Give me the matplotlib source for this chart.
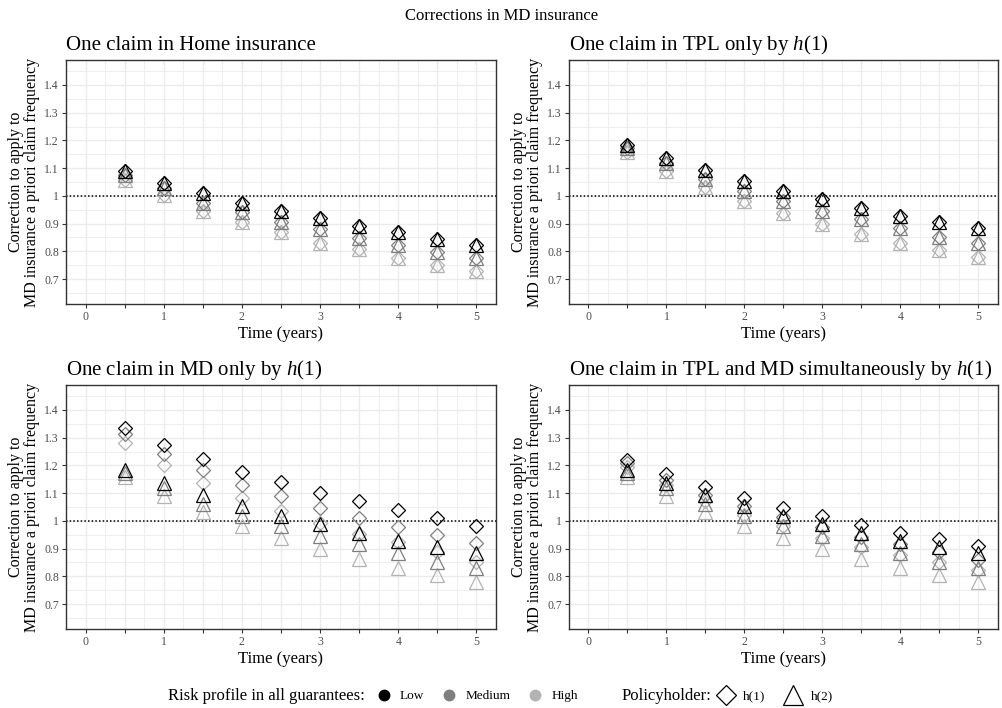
import matplotlib
matplotlib.use("Agg")
import matplotlib.pyplot as plt
from matplotlib.lines import Line2D
from matplotlib.ticker import MultipleLocator

plt.rcParams["font.family"] = ["Liberation Serif", "DejaVu Serif"]
plt.rcParams["mathtext.fontset"] = "custom"
plt.rcParams["mathtext.rm"] = "Liberation Serif"
plt.rcParams["mathtext.it"] = "Liberation Serif:italic"

# ---- data --------------------------------------------------------------------
TIME = [0.5, 1.0, 1.5, 2.0, 2.5, 3.0, 3.5, 4.0, 4.5, 5.0]

home_low = [1.088, 1.046, 1.010, 0.976, 0.946, 0.920, 0.893, 0.868, 0.845, 0.822]
home_med = [1.076, 1.028, 0.974, 0.940, 0.907, 0.880, 0.849, 0.823, 0.798, 0.775]
home_high = [1.058, 1.004, 0.946, 0.904, 0.868, 0.831, 0.808, 0.776, 0.752, 0.728]

tpl_low = [1.184, 1.136, 1.094, 1.054, 1.018, 0.988, 0.958, 0.928, 0.907, 0.883]
tpl_med = [1.172, 1.118, 1.060, 1.016, 0.980, 0.946, 0.916, 0.883, 0.853, 0.829]
tpl_high = [1.157, 1.088, 1.031, 0.980, 0.937, 0.898, 0.863, 0.831, 0.805, 0.781]

md_low = [1.335, 1.274, 1.223, 1.178, 1.140, 1.102, 1.070, 1.040, 1.010, 0.982]
md_med = [1.314, 1.241, 1.182, 1.130, 1.088, 1.046, 1.010, 0.977, 0.950, 0.919]
md_high = [1.280, 1.202, 1.136, 1.082, 1.034, 0.992, 0.953, 0.922, 0.889, 0.853]

both_low = [1.218, 1.168, 1.122, 1.082, 1.046, 1.016, 0.986, 0.958, 0.934, 0.910]
both_med = [1.208, 1.148, 1.094, 1.052, 1.013, 0.977, 0.943, 0.916, 0.886, 0.859]
both_high = [1.194, 1.130, 1.070, 1.022, 0.980, 0.937, 0.907, 0.877, 0.850, 0.823]

RISK = ["Low", "Medium", "High"]
COLORS = {"Low": "#000000", "Medium": "#7f7f7f", "High": "#b3b3b3"}

# (title, h(1) series, h(2) series)
PANELS = [
    ("One claim in Home insurance",
     (home_low, home_med, home_high), (home_low, home_med, home_high)),
    ("One claim in TPL only by $h$(1)",
     (tpl_low, tpl_med, tpl_high), (tpl_low, tpl_med, tpl_high)),
    ("One claim in MD only by $h$(1)",
     (md_low, md_med, md_high), (tpl_low, tpl_med, tpl_high)),
    ("One claim in TPL and MD simultaneously by $h$(1)",
     (both_low, both_med, both_high), (tpl_low, tpl_med, tpl_high)),
]

W, H = 1003, 708
fig = plt.figure(figsize=(W / 100, H / 100), dpi=100)

# axes boxes in pixels: left, top, right, bottom
BOXES = [(66, 60, 496, 304), (569, 60, 998, 304),
         (66, 385, 496, 629), (569, 385, 998, 629)]

for (title, h1, h2), (l, t, r, b) in zip(PANELS, BOXES):
    ax = fig.add_axes([l / W, 1 - b / H, (r - l) / W, (b - t) / H])
    ax.set_xlim(-0.25, 5.25)
    ax.set_ylim(0.61, 1.49)
    ax.xaxis.set_minor_locator(MultipleLocator(0.25))
    ax.yaxis.set_minor_locator(MultipleLocator(0.05))
    ax.set_xticks([0, 0.5, 1, 1.5, 2, 2.5, 3, 3.5, 4, 4.5, 5],
                  ["0", "", "1", "", "2", "", "3", "", "4", "", "5"])
    yt = [0.7, 0.8, 0.9, 1.0, 1.1, 1.2, 1.3, 1.4]
    ax.set_yticks(yt, ["0.7", "0.8", "0.9", "1", "1.1", "1.2", "1.3", "1.4"])
    ax.grid(which="major", color="#ebebeb", lw=1.0)
    ax.grid(which="minor", color="#ebebeb", lw=0.6)
    ax.set_axisbelow(True)
    ax.tick_params(which="major", length=3, width=0.8, color="#333333",
                   labelsize=8.5, labelcolor="#4d4d4d", pad=2)
    ax.tick_params(which="minor", length=0)
    for sp in ax.spines.values():
        sp.set_color("#333333")
        sp.set_linewidth(1.0)
    ax.axhline(1.0, color="black", lw=1.1, ls=(0, (1, 1.4)), zorder=1)
    for i in (2, 1, 0):
        c = COLORS[RISK[i]]
        ax.plot(TIME, h1[i], ls="", marker="D", ms=6.8, mfc="none",
                mec=c, mew=0.9, zorder=3)
        ax.plot(TIME, h2[i], ls="", marker="^", ms=9.5, mfc="none",
                mec=c, mew=0.9, zorder=3)
    ax.set_title(title, loc="left", fontsize=15, pad=7)
    ax.set_xlabel("Time (years)", fontsize=12, labelpad=2)
    ax.set_ylabel("Correction to apply to\nMD insurance a priori claim frequency",
                  fontsize=11.5, labelpad=3, linespacing=1.0)

fig.suptitle("Corrections in MD insurance", fontsize=12, y=1 - 16 / H, va="center")

# ---- bottom legend -----------------------------------------------------------
LEG_Y = 1 - 696 / H
fig.text(168 / W, LEG_Y, "Risk profile in all guarantees:",
         fontsize=12, va="center", ha="left")
risk_handles = [Line2D([], [], ls="", marker="o", ms=7.5, color=COLORS[r],
                       mec=COLORS[r]) for r in RISK]
fig.legend(risk_handles, RISK, loc="center left", ncol=3, frameon=False,
           bbox_to_anchor=(377 / W, LEG_Y), fontsize=9.5,
           handlelength=1.0, handletextpad=0.75, columnspacing=1.35,
           borderpad=0, borderaxespad=0)
fig.text(622 / W, LEG_Y, "Policyholder:", fontsize=12, va="center",
         ha="left")
ph_handles = [Line2D([], [], ls="", marker="D", ms=10, mfc="none", mec="black",
                     mew=0.9),
              Line2D([], [], ls="", marker="^", ms=14, mfc="none", mec="black",
                     mew=0.9)]
fig.legend(ph_handles, ["h(1)", "h(2)"], loc="center left", ncol=2,
           frameon=False, bbox_to_anchor=(717 / W, LEG_Y), fontsize=9.5,
           handlelength=1.4, handletextpad=0.6, columnspacing=1.4,
           borderpad=0, borderaxespad=0)

fig.savefig("out.png", dpi=100)
